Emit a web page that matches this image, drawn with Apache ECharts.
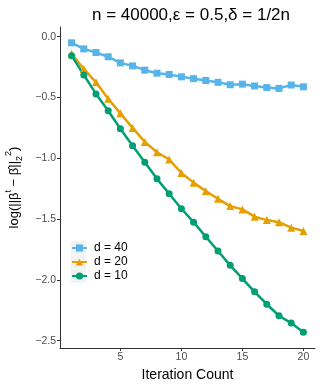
<!DOCTYPE html>
<html>
<head>
<meta charset="utf-8">
<script src="https://cdn.jsdelivr.net/npm/echarts@6/dist/echarts.min.js"></script>
<style>
  html, body { margin: 0; padding: 0; background: #fff; }
  #chart { width: 320px; height: 384px; }
</style>
</head>
<body>
<div id="chart"></div>
<script>
// iteration counts 1..20
const iterations = [1, 2, 3, 4, 5, 6, 7, 8, 9, 10, 11, 12, 13, 14, 15, 16, 17, 18, 19, 20];
const d40 = [-0.05, -0.10, -0.13, -0.165, -0.215, -0.24, -0.275, -0.30, -0.31, -0.33,
             -0.345, -0.36, -0.375, -0.395, -0.39, -0.405, -0.418, -0.425, -0.397, -0.412];
const d20 = [-0.14, -0.265, -0.375, -0.51, -0.63, -0.75, -0.865, -0.95, -1.01, -1.12,
             -1.20, -1.27, -1.333, -1.393, -1.42, -1.48, -1.508, -1.525, -1.57, -1.598];
const d10 = [-0.156, -0.314, -0.47, -0.609, -0.757, -0.896, -1.033, -1.169, -1.292, -1.415,
             -1.525, -1.645, -1.762, -1.88, -1.989, -2.098, -2.20, -2.295, -2.355, -2.431];
const xTicks = [5, 10, 15, 20];
const yTicks = [0, -0.5, -1, -1.5, -2, -2.5];

const chart = echarts.init(document.getElementById('chart'));

const pair = (ys) => iterations.map((x, i) => [x, ys[i]]);
const fmtY = (v) => (v < 0 ? '\u2212' : '') + Math.abs(v).toFixed(1);

const seriesDefs = [
  { name: 'd = 40', data: d40, color: '#56B4E9', symbol: 'rect', size: 7 },
  { name: 'd = 20', data: d20, color: '#E69F00', symbol: 'triangle', size: 8 },
  { name: 'd = 10', data: d10, color: '#009E73', symbol: 'circle', size: 7 }
];

// grey key boxes behind the legend symbols (ggplot style)
const keyBoxes = seriesDefs.map((s, i) => ({
  type: 'rect',
  left: 71,
  top: 241 + i * 14,
  shape: { width: 15, height: 13.5 },
  style: { fill: '#f2f2f2' },
  z: 0
}));

chart.setOption({
  animation: false,
  textStyle: { fontFamily: 'Liberation Sans, Arial, sans-serif' },
  title: {
    text: 'n = 40000,\u03b5 = 0.5,\u03b4 = 1/2n',
    left: 186,
    textAlign: 'center',
    top: 2,
    textStyle: { fontSize: 17, fontWeight: 'normal', color: '#000' }
  },
  grid: { left: 60, right: 5, top: 27, bottom: 36, outerBoundsMode: 'none' },
  graphic: keyBoxes,
  legend: {
    orient: 'vertical',
    left: 71,
    top: 241,
    padding: 0,
    itemWidth: 15,
    itemHeight: 9,
    itemGap: 0,
    textStyle: { fontSize: 12, color: '#000', lineHeight: 14, padding: [0, 0, 0, 2] },
    data: seriesDefs.map(s => s.name)
  },
  xAxis: {
    type: 'value',
    min: 0.05,
    max: 20.95,
    name: 'Iteration Count',
    nameLocation: 'middle',
    nameGap: 19,
    nameTextStyle: { fontSize: 14, color: '#000' },
    splitLine: { show: false },
    axisLine: { onZero: false, lineStyle: { color: '#333', width: 1 } },
    axisTick: { show: true, customValues: xTicks, length: 3, lineStyle: { color: '#333' } },
    axisLabel: { customValues: xTicks, color: '#4d4d4d', fontSize: 10.5, margin: 4 }
  },
  yAxis: {
    type: 'value',
    min: -2.56,
    max: 0.08,
    name: '{n|log(||\u03b2}{sup|t}{n| \u2212 \u03b2\u0302||}{sub|2}{sup|2}{n|)}',
    nameLocation: 'middle',
    nameGap: 31,
    nameRotate: 90,
    nameTextStyle: {
      fontSize: 13,
      color: '#000',
      rich: {
        n: { fontSize: 13, lineHeight: 20, verticalAlign: 'middle' },
        sup: { fontSize: 9, lineHeight: 20, verticalAlign: 'top' },
        sub: { fontSize: 9, lineHeight: 20, verticalAlign: 'bottom' }
      }
    },
    splitLine: { show: false },
    axisLine: { show: true, onZero: false, lineStyle: { color: '#333', width: 1 } },
    axisTick: { show: true, customValues: yTicks, length: 3, lineStyle: { color: '#333' } },
    axisLabel: { customValues: yTicks, color: '#4d4d4d', fontSize: 10.5, margin: 4, formatter: fmtY }
  },
  series: seriesDefs.map(s => ({
    name: s.name,
    type: 'line',
    data: pair(s.data),
    symbol: s.symbol,
    symbolSize: s.size,
    color: s.color,
    lineStyle: { width: 2.5, color: s.color },
    itemStyle: { color: s.color }
  }))
});
</script>
</body>
</html>
